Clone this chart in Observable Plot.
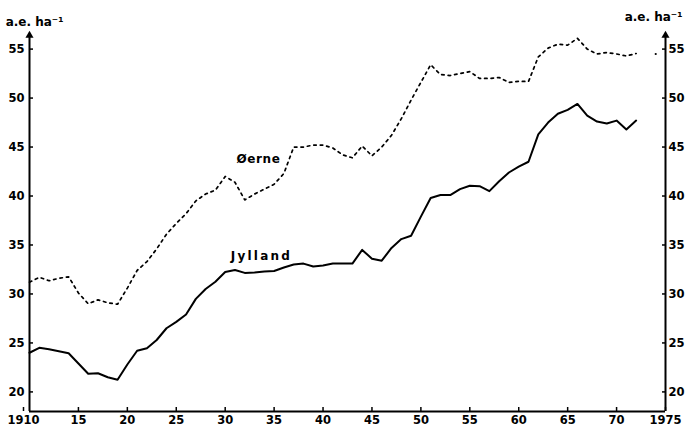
<!DOCTYPE html>
<html><head><meta charset="utf-8">
<script src="https://cdn.jsdelivr.net/npm/d3@7"></script>
<script src="https://cdn.jsdelivr.net/npm/@observablehq/plot@0.6"></script>
<style>html,body{margin:0;padding:0;background:#fff}svg{display:block}</style>
</head><body><div id="chart"></div>
<script>
const years = [1910,1911,1912,1913,1914,1915,1916,1917,1918,1919,
  1920,1921,1922,1923,1924,1925,1926,1927,1928,1929,
  1930,1931,1932,1933,1934,1935,1936,1937,1938,1939,
  1940,1941,1942,1943,1944,1945,1946,1947,1948,1949,
  1950,1951,1952,1953,1954,1955,1956,1957,1958,1959,
  1960,1961,1962,1963,1964,1965,1966,1967,1968,1969,
  1970,1971,1972];
const jylland = [24.0,24.5,24.35,24.15,23.95,22.9,21.85,21.9,21.5,21.25,
  22.8,24.2,24.45,25.3,26.5,27.15,27.9,29.5,30.5,31.25,
  32.25,32.45,32.15,32.2,32.3,32.35,32.7,33.0,33.1,32.8,
  32.9,33.1,33.1,33.1,34.5,33.6,33.4,34.7,35.6,35.95,
  37.9,39.8,40.1,40.1,40.7,41.05,41.0,40.5,41.5,42.4,
  43.0,43.5,46.3,47.5,48.4,48.8,49.4,48.2,47.6,47.4,
  47.7,46.8,47.7];
const oerne = [31.2,31.7,31.35,31.6,31.75,30.1,29.0,29.4,29.1,28.95,
  30.6,32.4,33.3,34.6,36.1,37.2,38.2,39.5,40.2,40.6,
  42.0,41.4,39.6,40.2,40.7,41.2,42.3,45.0,45.0,45.2,
  45.2,44.9,44.2,43.9,45.1,44.1,45.0,46.2,47.9,49.8,
  51.6,53.4,52.4,52.3,52.5,52.7,52.0,52.0,52.1,51.6,
  51.7,51.7,54.2,55.1,55.5,55.4,56.1,55.0,54.5,54.65,
  54.5,54.3,54.55];
const oerneExtraYear = [1974];
const oerneExtraValue = [54.5];
const xTicks = [1915,1920,1925,1930,1935,1940,1945,1950,1955,1960,1965,1970,1975];
const xFirstTick = [1910];
const yTicks = [20,25,30,35,40,45,50,55];
const xDomain = [1910, 1975];
const yDomain = [18, 57];
const axisTop = 56.4;
const unitLabel = "a.e. ha⁻¹";
const seriesLabels = [
  {name: "Øerne", year: 1933.4, value: 43.8, spacing: 0.6},
  {name: "Jylland", year: 1933.7, value: 33.9, spacing: 2.2}
];

const jyl = years.map((y, i) => ({year: y, value: jylland[i]}));
const oer = years.map((y, i) => ({year: y, value: oerne[i]}));
const extra = oerneExtraYear.map((y, i) => ({year: y, value: oerneExtraValue[i]}));
const font = "DejaVu Sans";
const fmt = d => (d === xDomain[0] || d === xDomain[1]) ? String(d) : String(d).slice(2);

const chart = Plot.plot({
  width: 687,
  height: 428,
  marginLeft: 29,
  marginRight: 22,
  marginTop: 29,
  marginBottom: 17,
  style: {fontFamily: font, fontSize: "11px", fontWeight: "bold", background: "#fff", color: "#000"},
  x: {domain: xDomain},
  y: {domain: yDomain},
  marks: [
    Plot.axisX({ticks: xTicks, tickSize: -4, tickPadding: 8, strokeWidth: 1.5,
      tickFormat: fmt, fontWeight: "bold", fontSize: 11.5, label: null}),
    Plot.axisX({ticks: xFirstTick, tickSize: -4, tickPadding: 8, strokeWidth: 1.5, dx: -6,
      tickFormat: fmt, fontWeight: "bold", fontSize: 11.5, label: null}),
    Plot.axisY({anchor: "left", ticks: yTicks, tickSize: -4, tickPadding: 9, strokeWidth: 1.5,
      fontWeight: "bold", fontSize: 11.5, label: null}),
    Plot.axisY({anchor: "right", ticks: yTicks, tickSize: -4, tickPadding: 7, strokeWidth: 1.5,
      fontWeight: "bold", fontSize: 11.5, label: null}),
    Plot.ruleY([yDomain[0]], {x1: xDomain[0], x2: xDomain[1], strokeWidth: 2}),
    Plot.ruleX([xDomain[0], xDomain[1]], {y1: yDomain[0], y2: axisTop, strokeWidth: 2}),
    Plot.dot([xDomain[0], xDomain[1]], {x: d => d, y: axisTop, symbol: "triangle", r: 3, fill: "#000", stroke: "none"}),
    Plot.line(jyl, {x: "year", y: "value", stroke: "#000", strokeWidth: 2}),
    Plot.line(oer, {x: "year", y: "value", stroke: "#000", strokeWidth: 1.7, strokeDasharray: "2.5,4"}),
    Plot.dot(extra, {x: "year", y: "value", r: 1.1, fill: "#000", stroke: "none"}),
    Plot.text(seriesLabels, {x: "year", y: "value", text: "name", fontSize: 12, fontWeight: "bold", fill: "#000"}),
    Plot.text([unitLabel], {frameAnchor: "top-left", dx: 5, dy: -7.5, textAnchor: "middle", lineAnchor: "middle",
      fontSize: 12, fontWeight: "bold", fill: "#000"}),
    Plot.text([unitLabel], {frameAnchor: "top-right", dx: -12, dy: -12, textAnchor: "middle", lineAnchor: "middle",
      fontSize: 12, fontWeight: "bold", fill: "#000"})
  ]
});
// letter spacing of the series labels
seriesLabels.forEach(s => {
  d3.select(chart).selectAll("text").filter(function() { return this.textContent === s.name; })
    .attr("letter-spacing", s.spacing);
});
document.getElementById("chart").appendChild(chart);
</script>
</body></html>
